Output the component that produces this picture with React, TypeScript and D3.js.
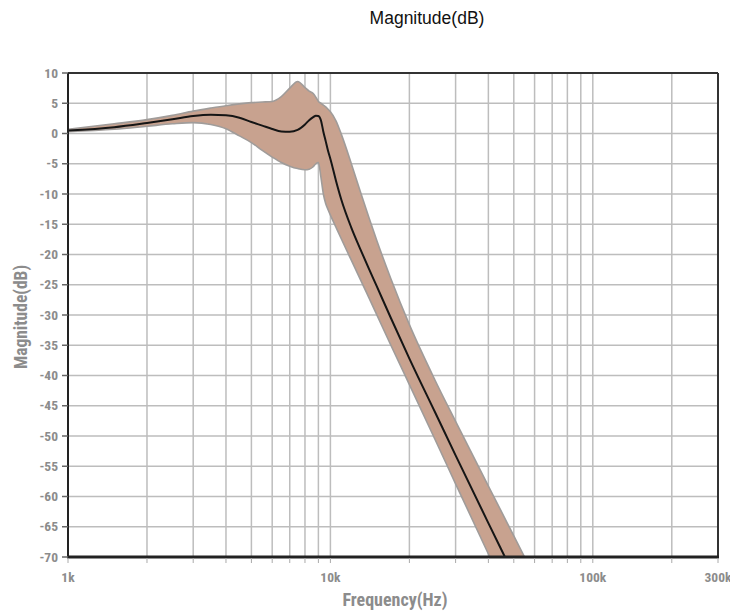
import React from "react";
import * as d3 from "d3";

const width = 730;
const height = 611;
const margin = { left: 68, right: 12, top: 73, bottom: 54 };

// frequency points (Hz)
const freqs = [
  1000, 1500, 2000, 2500, 3000, 3500, 4000, 4500, 5000, 5500, 6000, 6500, 7000,
  7500, 8000, 8300, 8600, 8800, 9000, 9200, 9400, 9600, 9800, 10000, 10500,
  11000, 12000, 13000, 14000, 15000, 17000, 20000, 25000, 30000, 40000, 50000,
  60000
];

// nominal response (dB)
const center = [
  0.5, 1.05, 1.75, 2.35, 2.9, 3.1, 3.0, 2.6, 1.9, 1.3, 0.75, 0.35, 0.3, 0.6, 1.5,
  2.2, 2.7, 2.95, 2.9, 2.2, 0.3, -1.3, -2.9, -4.2, -7.8, -10.9, -15.5, -19.1,
  -22.3, -25.2, -30.5, -37.2, -46.0, -53.2, -64.4, -73.0, -80.1
];

// tolerance band, upper edge (dB)
const upper = [
  0.7, 1.6, 2.3, 3.0, 3.7, 4.2, 4.6, 4.9, 5.1, 5.2, 5.3, 6.1, 7.5, 8.6, 7.6,
  7.0, 6.6, 6.0, 5.3, 5.0, 4.7, 4.4, 4.0, 3.6, 2.1, -0.1, -4.9, -9.6, -13.8,
  -17.6, -24.0, -31.6, -40.7, -47.6, -58.3, -66.5, -73.3
];

// tolerance band, lower edge (dB)
const lower = [
  0.3, 0.7, 1.2, 1.6, 1.8, 1.5, 0.8, -0.4, -1.5, -2.8, -3.9, -4.8, -5.4, -5.8,
  -6.0, -5.9, -5.5, -5.0, -4.8, -7.2, -10.0, -11.6, -12.6, -13.5, -15.5, -17.4,
  -20.9, -24.1, -27.1, -29.9, -35.0, -41.5, -50.5, -57.9, -69.5, -78.5, -85.8
];

const yTicks = [10, 5, 0, -5, -10, -15, -20, -25, -30, -35, -40, -45, -50, -55, -60, -65, -70];
const xLabelFreqs = [1000, 10000, 100000, 300000];
const xLabelText = ["1k", "10k", "100k", "300k"];
const gridFreqs = [
  2000, 3000, 4000, 5000, 6000, 7000, 8000, 9000, 10000,
  20000, 30000, 40000, 50000, 60000, 70000, 80000, 90000, 100000,
  200000
];

const narrow = "'Liberation Sans Narrow', 'Arial Narrow', 'Roboto Condensed', sans-serif";

export default function App() {
  const x = d3
    .scaleLog()
    .domain([1000, 300000])
    .range([margin.left, width - margin.right]);
  const y = d3
    .scaleLinear()
    .domain([-70, 10])
    .range([height - margin.bottom, margin.top]);

  const rows = freqs.map((f, i) => ({ f, c: center[i], u: upper[i], l: lower[i] }));

  const band = d3
    .area<any>()
    .x(d => x(d.f))
    .y0(d => y(d.l))
    .y1(d => y(d.u))
    .curve(d3.curveMonotoneX);

  const line = d3
    .line<any>()
    .x(d => x(d.f))
    .y(d => y(d.c))
    .curve(d3.curveMonotoneX);

  const x0 = x.range()[0];
  const x1 = x.range()[1];
  const y0 = y.range()[0];
  const y1 = y.range()[1];

  return (
    <svg
      width={width}
      height={height}
      style={{ position: "absolute", left: 0, top: 0, background: "#fff" }}
    >
      <defs>
        <clipPath id="plot">
          <rect x={x0} y={y1} width={x1 - x0} height={y0 - y1} />
        </clipPath>
      </defs>

      <text
        x={427}
        y={24}
        textAnchor="middle"
        fontFamily="'Liberation Sans', Arial, sans-serif"
        fontSize={17.5}
        fill="#111"
      >
        Magnitude(dB)
      </text>

      {/* grid */}
      <g stroke="#bdbdbd" strokeWidth={1.5}>
        {yTicks.map(t => (
          <line key={"h" + t} x1={x0} x2={x1} y1={y(t)} y2={y(t)} />
        ))}
        {gridFreqs.map(f => (
          <line key={"v" + f} x1={x(f)} x2={x(f)} y1={y1} y2={y0} />
        ))}
      </g>

      <g clipPath="url(#plot)">
        <path
          d={band(rows) || ""}
          fill="#c8a28f"
          stroke="#a09c9a"
          strokeWidth={1.6}
        />
        <path d={line(rows) || ""} fill="none" stroke="#151515" strokeWidth={2} />
      </g>

      {/* frame */}
      <line x1={x0} x2={x1} y1={y1} y2={y1} stroke="#333" strokeWidth={2} />
      <line x1={x1} x2={x1} y1={y1} y2={y0} stroke="#333" strokeWidth={2} />
      <line x1={x0} x2={x0} y1={y1} y2={y0} stroke="#222" strokeWidth={2} />
      <line x1={x0 - 1} x2={x1 + 1} y1={y0} y2={y0} stroke="#222" strokeWidth={3} />

      {/* y axis */}
      <g fontFamily={narrow} fontSize={13.5} fontWeight="bold" fill="#8c8c8c">
        {yTicks.map(t => (
          <g key={"yt" + t}>
            <line x1={x0 - 6} x2={x0} y1={y(t)} y2={y(t)} stroke="#666" strokeWidth={1.5} />
            <text x={x0 - 10} y={y(t)} dy="0.35em" textAnchor="end">
              {t}
            </text>
          </g>
        ))}
      </g>

      {/* x axis */}
      <g stroke="#aaa" strokeWidth={1}>
        {[1000, ...gridFreqs, 300000].map(f => (
          <line key={"xt" + f} x1={x(f)} x2={x(f)} y1={y0 + 1} y2={y0 + 6} />
        ))}
      </g>
      <g fontFamily={narrow} fontSize={13.5} fontWeight="bold" fill="#8c8c8c">
        {xLabelFreqs.map((f, i) => (
          <text key={"xl" + f} x={x(f)} y={y0 + 25} textAnchor="middle">
            {xLabelText[i]}
          </text>
        ))}
      </g>

      <text
        x={395}
        y={606}
        textAnchor="middle"
        fontFamily={narrow}
        fontSize={18}
        fontWeight="bold"
        fill="#8c8c8c"
      >
        Frequency(Hz)
      </text>
      <text
        transform={`translate(27,${(y0 + y1) / 2 + 2}) rotate(-90)`}
        textAnchor="middle"
        fontFamily={narrow}
        fontSize={17.5}
        fontWeight="bold"
        fill="#8c8c8c"
      >
        Magnitude(dB)
      </text>
    </svg>
  );
}
